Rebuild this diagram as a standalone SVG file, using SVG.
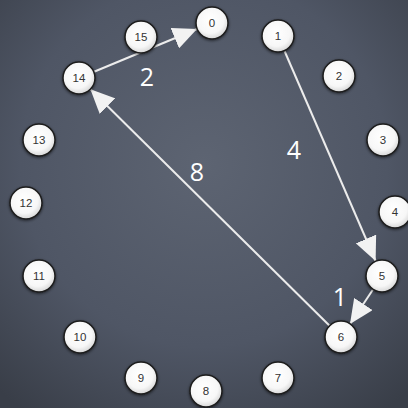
<svg xmlns="http://www.w3.org/2000/svg" width="408" height="408" viewBox="0 0 408 408">
<defs>
<radialGradient id="bg" cx="50%" cy="40%" r="75%">
<stop offset="0" stop-color="#5d6472"/>
<stop offset="0.6" stop-color="#4f5665"/>
<stop offset="1" stop-color="#393e48"/>
</radialGradient>
<radialGradient id="nf" cx="45%" cy="40%" r="60%">
<stop offset="0" stop-color="#ffffff"/>
<stop offset="0.7" stop-color="#f7f7f7"/>
<stop offset="1" stop-color="#d8d8d8"/>
</radialGradient>
<filter id="sh" x="-30%" y="-30%" width="160%" height="160%">
<feDropShadow dx="0" dy="1" stdDeviation="1.5" flood-color="#000" flood-opacity="0.6"/>
</filter>
<marker id="ah" viewBox="0 0 24 22" refX="24" refY="11" markerWidth="24" markerHeight="22" markerUnits="userSpaceOnUse" orient="auto">
<path d="M0,0 L24,11 L0,22 Z" fill="#f2f2f2"/>
</marker>
</defs>
<style>
.n circle{fill:url(#nf);stroke:#1c1c1c;stroke-width:1.5;filter:url(#sh)}
.n text{font-family:"Liberation Sans",Arial,sans-serif;font-size:11.5px;fill:#333333;text-anchor:middle;dominant-baseline:central}
.e line{stroke:#ececec;stroke-width:2;marker-end:url(#ah)}
.lbl{font-family:"Open Sans","Liberation Sans",sans-serif;font-size:25px;fill:#ffffff;text-anchor:middle}
</style>
<rect width="408" height="408" fill="url(#bg)"/>
<g id="connectors" class="e">
<line x1="79" y1="78" x2="197" y2="29"/>
<line x1="278" y1="36" x2="375.6" y2="261"/>
<line x1="382" y1="276" x2="350" y2="324"/>
<line x1="341" y1="337" x2="90.4" y2="89.2"/>
</g>
<g id="labels">
<text class="lbl" x="147" y="86">2</text>
<text class="lbl" x="294" y="159">4</text>
<text class="lbl" x="197" y="181">8</text>
<text class="lbl" x="340" y="306">1</text>
</g>
<g id="n0" class="n"><circle cx="212" cy="23" r="16"/><text x="212" y="23">0</text></g>
<g id="n1" class="n"><circle cx="278" cy="36" r="16"/><text x="278" y="36">1</text></g>
<g id="n2" class="n"><circle cx="339" cy="76" r="16"/><text x="339" y="76">2</text></g>
<g id="n3" class="n"><circle cx="383" cy="140" r="16"/><text x="383" y="140">3</text></g>
<g id="n4" class="n"><circle cx="395" cy="212" r="16"/><text x="395" y="212">4</text></g>
<g id="n5" class="n"><circle cx="382" cy="276" r="16"/><text x="382" y="276">5</text></g>
<g id="n6" class="n"><circle cx="341" cy="337" r="16"/><text x="341" y="337">6</text></g>
<g id="n7" class="n"><circle cx="278" cy="378" r="16"/><text x="278" y="378">7</text></g>
<g id="n8" class="n"><circle cx="206" cy="391" r="16"/><text x="206" y="391">8</text></g>
<g id="n9" class="n"><circle cx="141" cy="378" r="16"/><text x="141" y="378">9</text></g>
<g id="n10" class="n"><circle cx="80" cy="337" r="16"/><text x="80" y="337">10</text></g>
<g id="n11" class="n"><circle cx="39" cy="276" r="16"/><text x="39" y="276">11</text></g>
<g id="n12" class="n"><circle cx="26" cy="203" r="16"/><text x="26" y="203">12</text></g>
<g id="n13" class="n"><circle cx="39" cy="140" r="16"/><text x="39" y="140">13</text></g>
<g id="n14" class="n"><circle cx="79" cy="78" r="16"/><text x="79" y="78">14</text></g>
<g id="n15" class="n"><circle cx="141" cy="37" r="16"/><text x="141" y="37">15</text></g>
</svg>
